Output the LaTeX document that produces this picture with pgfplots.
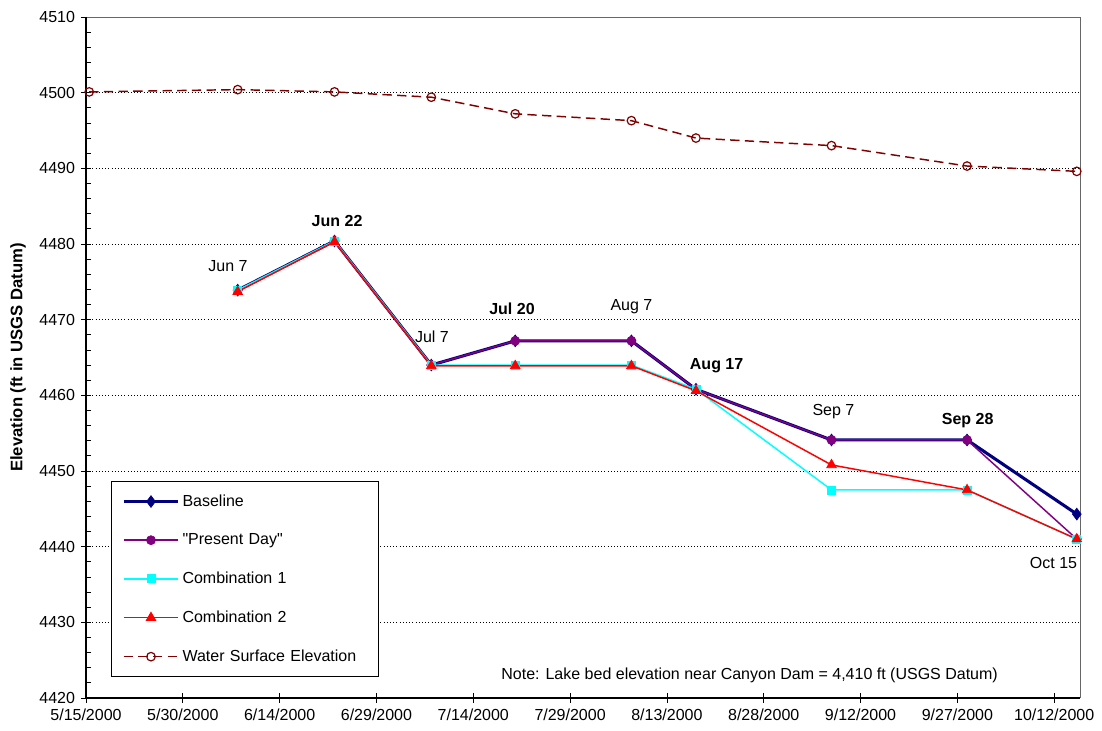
\documentclass[border=0pt]{standalone}
\usepackage{pgfplots}
\pgfplotsset{compat=1.18}
\usepackage{fontspec}
\setmainfont{Liberation Sans}
\definecolor{navyc}{HTML}{000080}
\definecolor{purplec}{HTML}{800080}
\definecolor{cyanc}{HTML}{00FFFF}
\definecolor{redc}{HTML}{FF0000}
\definecolor{darkredc}{HTML}{800000}
\begin{document}
\begin{tikzpicture}
\begin{axis}[
  name=ax,
  scale only axis,
  width=745.5pt, height=510.75pt,
  xmin=0, xmax=154,
  ymin=4420, ymax=4510,
  xtick={0,15,30,45,60,75,90,105,120,135,150},
  xticklabels={5/15/2000,5/30/2000,6/14/2000,6/29/2000,7/14/2000,7/29/2000,8/13/2000,8/28/2000,9/12/2000,9/27/2000,10/12/2000},
  ytick={4420,4430,...,4510},
  minor y tick num=4,
  xtick pos=bottom, ytick pos=left,
  /pgf/number format/assume math mode=true,
  /pgf/number format/1000 sep={},
  ticklabel style={font=\fontsize{12}{14}\selectfont},
  x tick label style={yshift=-1pt},
  y tick label style={xshift=-1pt},
  xtick align=center,
  ytick align=center,
  major tick length=7.5pt,
  minor tick length=3.5pt,
  tick style={black, line width=0.6pt},
  every minor y tick/.style={xshift=1.75pt},
  axis line style={draw=none},
  ymajorgrids,
  major grid style={black, dotted, line width=0.5pt},
  ylabel={\bfseries Elevation (ft in USGS Datum)},
  ylabel style={at={(axis description cs:-0.0684,0.5)}, anchor=center, font=\fontsize{12.5}{14}\selectfont},
  legend style={at={(0.0252,0.3186)}, anchor=north west, draw=black, line width=0.6pt,
    font=\fontsize{12}{14}\selectfont, row sep=15pt, inner xsep=8pt, inner ysep=8pt,
    text width=137pt, cells={anchor=west}},
  legend image code/.code={\draw[mark repeat=2,mark phase=2] plot coordinates {(0pt,0pt) (20.5pt,0pt) (41pt,0pt)};},
  clip=false,
]
% plot area border
\draw[gray!80!black, line width=0.6pt] (axis cs:0,4510) -- (axis cs:154,4510) -- (axis cs:154,4420);
\draw[black, line width=0.8pt] (axis cs:0,4510) -- (axis cs:0,4420) -- (axis cs:154,4420);

\addplot[navyc, line width=2.3pt, mark=diamond*, mark size=4.4pt, mark options={solid, fill=navyc, line width=0.5pt}]
  coordinates {(23.5,4473.9) (38.5,4480.4) (53.5,4464.0) (66.5,4467.2) (84.5,4467.2) (94.5,4460.8) (115.5,4454.1) (136.5,4454.1) (153.5,4444.3)};
\addlegendentry{Baseline}
\addplot[purplec, line width=1.1pt, mark=*, mark size=3.4pt, mark options={solid, fill=purplec, line width=0.5pt}]
  coordinates {(23.5,4473.9) (38.5,4480.4) (53.5,4464.0) (66.5,4467.2) (84.5,4467.2) (94.5,4460.8) (115.5,4454.1) (136.5,4454.1) (153.5,4441.0)};
\addlegendentry{\textquotedbl Present Day\textquotedbl}
\addplot[cyanc, line width=1.1pt, mark=square*, mark size=3pt, mark options={solid, fill=cyanc, line width=0.5pt}]
  coordinates {(23.5,4473.9) (38.5,4480.4) (53.5,4464.0) (66.5,4464.0) (84.5,4464.0) (94.5,4460.8) (115.5,4447.5) (136.5,4447.5) (153.5,4441.0)};
\addlegendentry{Combination 1}
\addplot[redc, line width=1.1pt, mark=triangle*, mark size=4.2pt, mark options={solid, fill=redc, line width=0.5pt}]
  coordinates {(23.5,4473.7) (38.5,4480.3) (53.5,4463.9) (66.5,4463.9) (84.5,4463.9) (94.5,4460.6) (115.5,4450.8) (136.5,4447.5) (153.5,4441.0)};
\addlegendentry{Combination 2}
\addplot[darkredc, line width=1.1pt, dash pattern=on 7pt off 4pt, mark=o, mark size=3.2pt, mark options={solid, fill=white, line width=0.9pt}]
  coordinates {(0.5,4500.1) (23.5,4500.4) (38.5,4500.1) (53.5,4499.4) (66.5,4497.2) (84.5,4496.3) (94.5,4494.0) (115.5,4493.0) (136.5,4490.3) (153.5,4489.6)};
\addlegendentry{Water Surface Elevation}

\begin{scope}[every node/.style={font=\fontsize{12}{14}\selectfont}]
\node at (axis cs:22.0,4477.1) {Jun 7};
\node at (axis cs:38.9,4483.0) {\bfseries Jun 22};
\node at (axis cs:53.6,4467.8) {Jul 7};
\node at (axis cs:66.0,4471.4) {\bfseries Jul 20};
\node at (axis cs:84.5,4471.7) {Aug 7};
\node at (axis cs:97.7,4463.9) {\bfseries Aug 17};
\node at (axis cs:115.8,4457.8) {Sep 7};
\node at (axis cs:136.6,4456.6) {\bfseries Sep 28};
\node at (axis cs:149.9,4437.8) {Oct 15};
\node[font=\fontsize{12}{14}\selectfont, anchor=east] at (axis cs:142.0,4423.0) {Note: Lake bed elevation near Canyon Dam = 4,410 ft (USGS Datum)};
\end{scope}
\end{axis}
\pgfresetboundingbox
\path[use as bounding box] ([shift={(-64.5pt,-24.75pt)}]ax.south west) rectangle ([shift={(16.5pt,12.75pt)}]ax.north east);
\end{tikzpicture}
\end{document}
